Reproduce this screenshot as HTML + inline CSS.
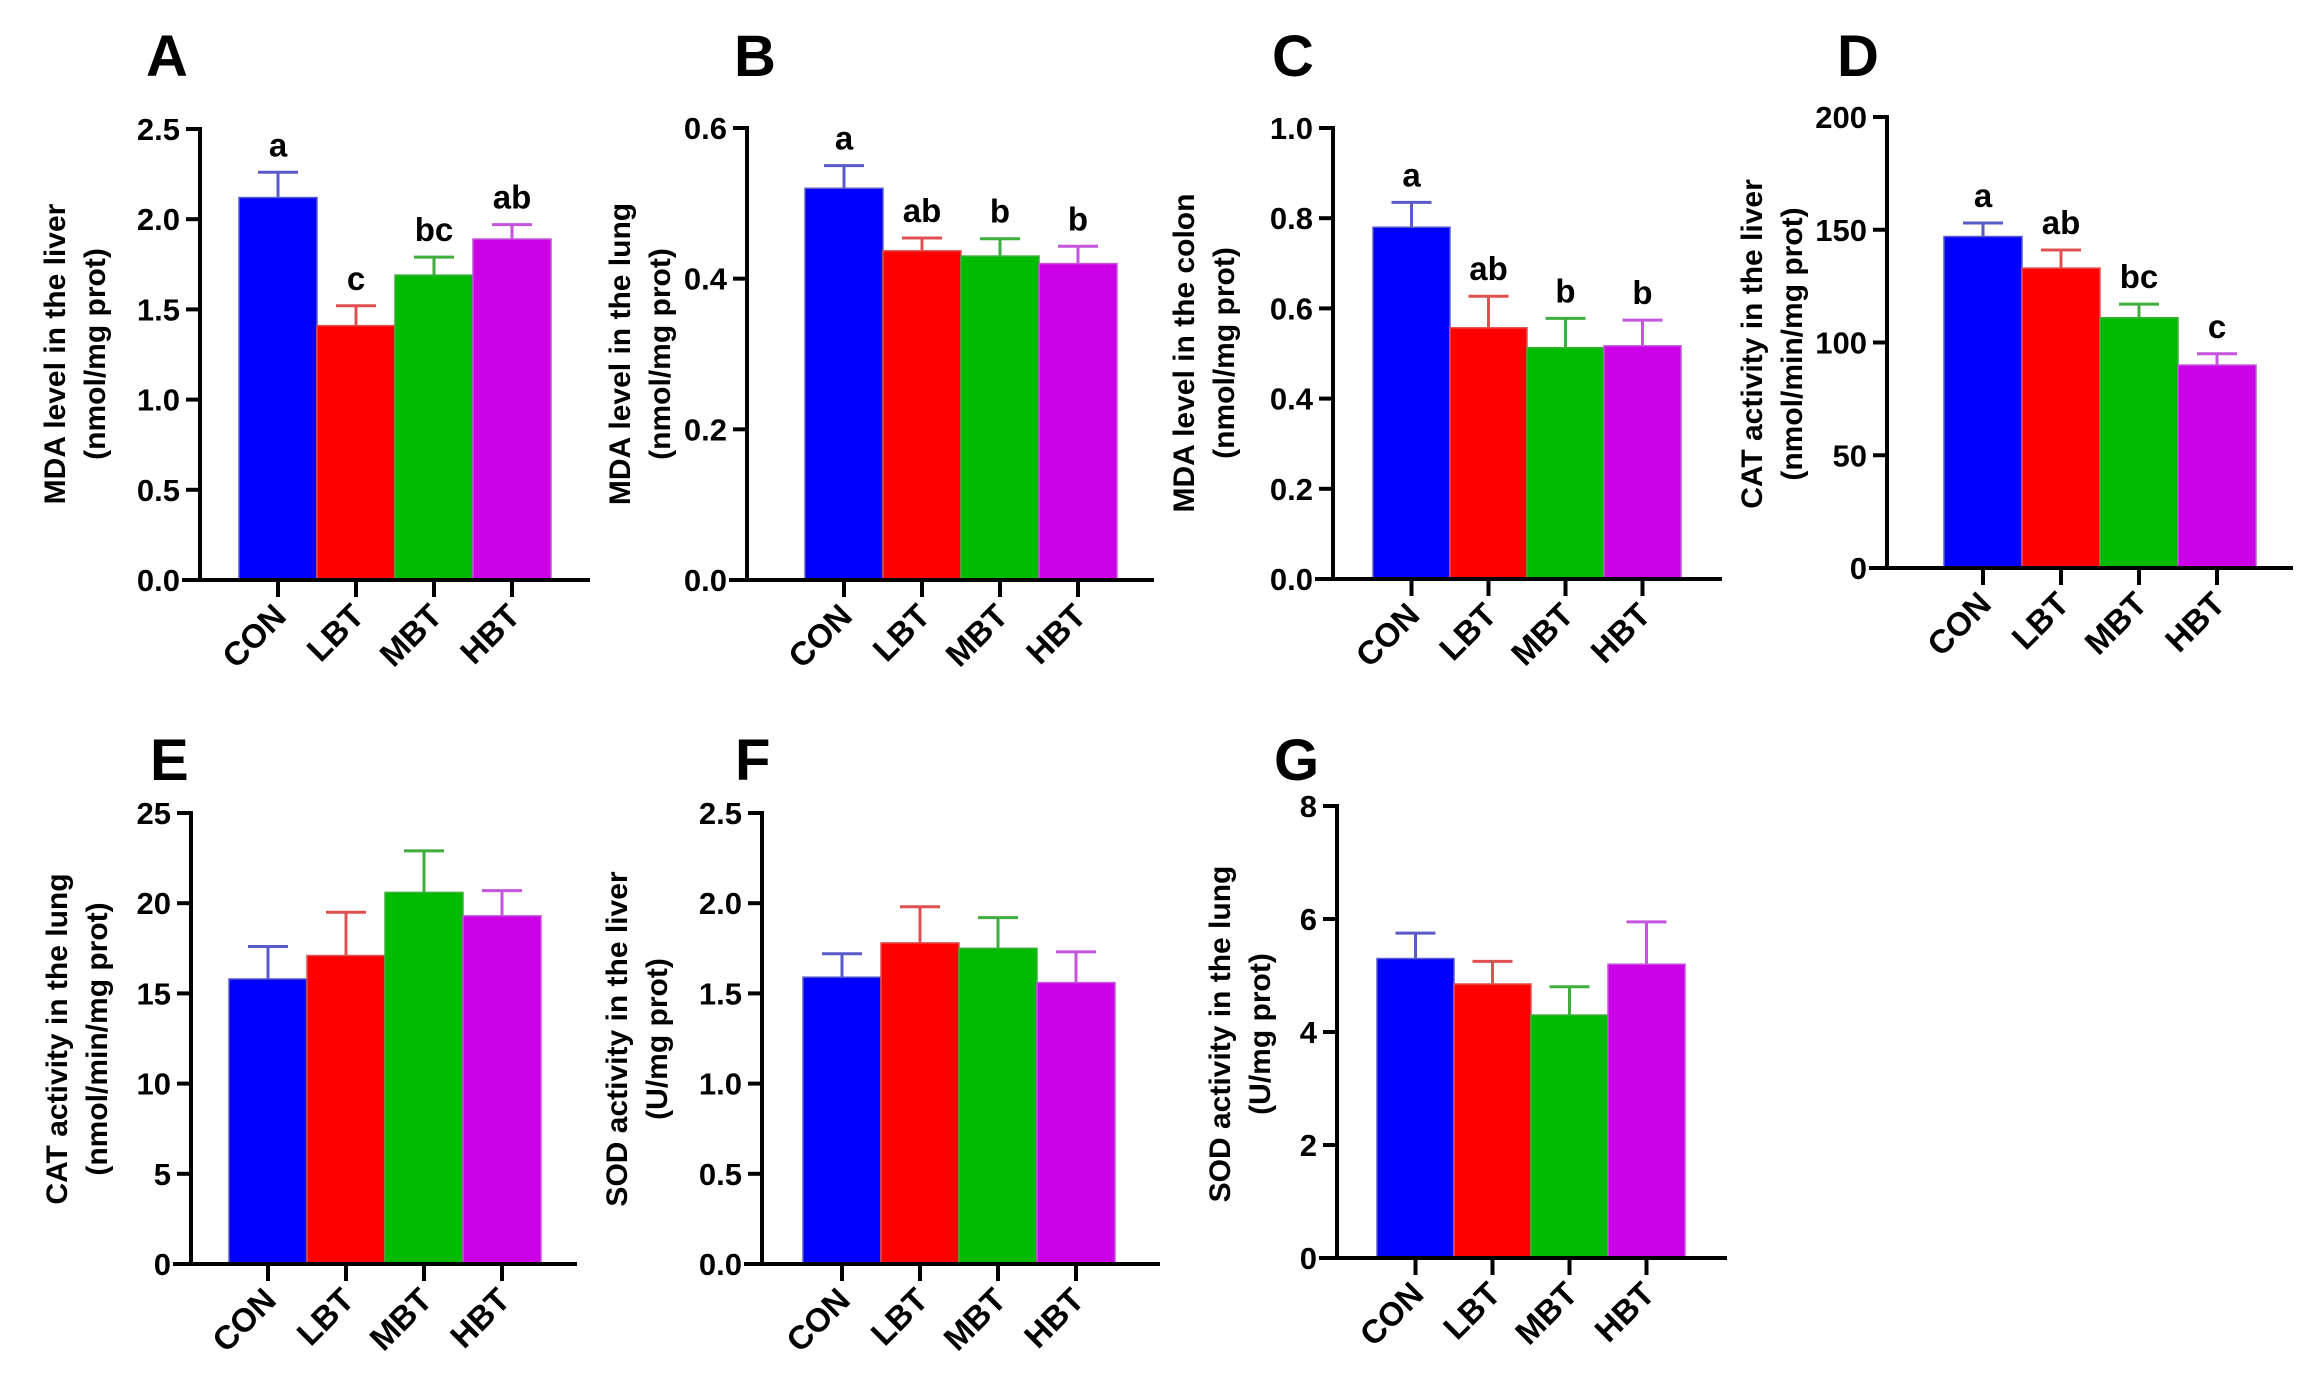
<!DOCTYPE html>
<html><head><meta charset="utf-8"><style>
html,body{margin:0;padding:0;background:#fff;}
svg{display:block;font-family:"Liberation Sans",Arial,sans-serif;}
</style></head><body>
<svg id="fig" width="2317" height="1392" viewBox="0 0 2317 1392" xmlns="http://www.w3.org/2000/svg"></svg>
<script>
const categories = ["CON","LBT","MBT","HBT"];
const barColors = ["#0000ff","#ff0000","#00bb00","#cc00e6"];
const errColors = ["#5a5ac8","#e05050","#3fae3f","#c455dc"];
const valsA = [2.12,1.41,1.69,1.89]; const errA = [0.14,0.11,0.10,0.08]; const sigA = ["a","c","bc","ab"];
const valsB = [0.52,0.437,0.43,0.42]; const errB = [0.03,0.017,0.023,0.023]; const sigB = ["a","ab","b","b"];
const valsC = [0.78,0.557,0.513,0.517]; const errC = [0.055,0.07,0.065,0.057]; const sigC = ["a","ab","b","b"];
const valsD = [147,133,111,90]; const errD = [6,8,6,5]; const sigD = ["a","ab","bc","c"];
const valsE = [15.8,17.1,20.6,19.3]; const errE = [1.8,2.4,2.3,1.4];
const valsF = [1.59,1.78,1.75,1.56]; const errF = [0.13,0.2,0.17,0.17];
const valsG = [5.3,4.85,4.3,5.2]; const errG = [0.45,0.4,0.5,0.75];
const ticksA = ["0.0","0.5","1.0","1.5","2.0","2.5"];
const ticksB = ["0.0","0.2","0.4","0.6"];
const ticksC = ["0.0","0.2","0.4","0.6","0.8","1.0"];
const ticksD = ["0","50","100","150","200"];
const ticksE = ["0","5","10","15","20","25"];
const ticksF = ["0.0","0.5","1.0","1.5","2.0","2.5"];
const ticksG = ["0","2","4","6","8"];

const NS="http://www.w3.org/2000/svg";
const svg=document.getElementById('fig');
function mk(tag,attrs,parent){const e=document.createElementNS(NS,tag);for(const k in attrs)e.setAttribute(k,attrs[k]);(parent||svg).appendChild(e);return e;}

const panels=[
 {id:"a",letter:"A",lx:146,ly:76,ax:200,y0:580,yt:129,xend:590,b0:239,bw:78,max:2.5,ticks:ticksA,vals:valsA,errs:errA,sig:sigA,t1:"MDA level in the liver",t2:"(nmol/mg prot)",tx:55,ty:354},
 {id:"b",letter:"B",lx:734,ly:76,ax:747,y0:580,yt:128,xend:1154,b0:805,bw:78,max:0.6,ticks:ticksB,vals:valsB,errs:errB,sig:sigB,t1:"MDA level in the lung",t2:"(nmol/mg prot)",tx:620,ty:354},
 {id:"c",letter:"C",lx:1272,ly:76,ax:1333,y0:579,yt:128,xend:1722,b0:1373,bw:77,max:1.0,ticks:ticksC,vals:valsC,errs:errC,sig:sigC,t1:"MDA level in the colon",t2:"(nmol/mg prot)",tx:1184,ty:353},
 {id:"d",letter:"D",lx:1837,ly:76,ax:1887,y0:568,yt:117,xend:2293,b0:1944,bw:78,max:200,ticks:ticksD,vals:valsD,errs:errD,sig:sigD,t1:"CAT activity in the liver",t2:"(nmol/min/mg prot)",tx:1752,ty:344},
 {id:"e",letter:"E",lx:150,ly:780,ax:191,y0:1264,yt:813,xend:577,b0:229,bw:78,max:25,ticks:ticksE,vals:valsE,errs:errE,sig:null,t1:"CAT activity in the lung",t2:"(nmol/min/mg prot)",tx:57,ty:1039},
 {id:"f",letter:"F",lx:735,ly:780,ax:762,y0:1264,yt:813,xend:1160,b0:803,bw:78,max:2.5,ticks:ticksF,vals:valsF,errs:errF,sig:null,t1:"SOD activity in the liver",t2:"(U/mg prot)",tx:617,ty:1039},
 {id:"g",letter:"G",lx:1274,ly:780,ax:1337,y0:1258,yt:806,xend:1727,b0:1377,bw:77,max:8,ticks:ticksG,vals:valsG,errs:errG,sig:null,t1:"SOD activity in the lung",t2:"(U/mg prot)",tx:1220,ty:1034}
];

panels.forEach(p=>{
 const g=mk('g',{});
 
 
 const yS=v=>p.y0-(v/p.max)*(p.y0-p.yt);
 const L=mk('text',{x:p.lx,y:p.ly,'font-size':58,'font-weight':'bold',fill:'#000'},g);
 L.textContent=p.letter;
 
 
 const T=mk('text',{transform:`translate(${p.tx},${p.ty}) rotate(-90)`,'font-size':30,'font-weight':'bold','text-anchor':'middle',fill:'#000'},g);
 
 
 const s1=mk('tspan',{x:0,y:10},T); s1.textContent=p.t1;
 const s2=mk('tspan',{x:0,y:50},T); s2.textContent=p.t2;
 p.vals.forEach((v,i)=>{
  const x=p.b0+i*p.bw, y=yS(v);
  const r=mk('rect',{x:x,y:y,width:p.bw,height:p.y0-y,fill:barColors[i],stroke:errColors[i],'stroke-width':1.5},g);
  
  
  const cx=x+p.bw/2, ye=yS(v+p.errs[i]);
  const e=mk('path',{d:`M${cx},${y} V${ye} M${cx-20},${ye} H${cx+20}`,stroke:errColors[i],'stroke-width':3,fill:'none'},g);
  
  
  if(p.sig){
   const s=mk('text',{x:cx,y:ye-16,'font-size':33,'font-weight':'bold','text-anchor':'middle',fill:'#000'},g);
   s.textContent=p.sig[i];
   
   
  }
  const t=mk('line',{x1:cx,y1:p.y0,x2:cx,y2:p.y0+17,stroke:'#000','stroke-width':4},g);
  
  
  const cl=mk('text',{transform:`translate(${cx+10},${p.y0+38}) rotate(-45)`,'font-size':33,'font-weight':'bold','text-anchor':'end',fill:'#000'},g);
  cl.textContent=categories[i];
  
  
 });
 const ya=mk('line',{x1:p.ax,y1:p.yt-2,x2:p.ax,y2:p.y0+2,stroke:'#000','stroke-width':4},g);
 
 
 const xa=mk('line',{x1:p.ax-18,y1:p.y0,x2:p.xend,y2:p.y0,stroke:'#000','stroke-width':4},g);
 
 
 p.ticks.forEach((lab,k)=>{
  const v=parseFloat(lab), y=yS(v);
  const tk=mk('line',{x1:p.ax-14,y1:y,x2:p.ax,y2:y,stroke:'#000','stroke-width':4},g);
  
  
  const tl=mk('text',{x:p.ax-20,y:y+11,'font-size':31,'font-weight':'bold','text-anchor':'end',fill:'#000'},g);
  tl.textContent=lab;
  
  
 });
});
</script>
</body></html>
